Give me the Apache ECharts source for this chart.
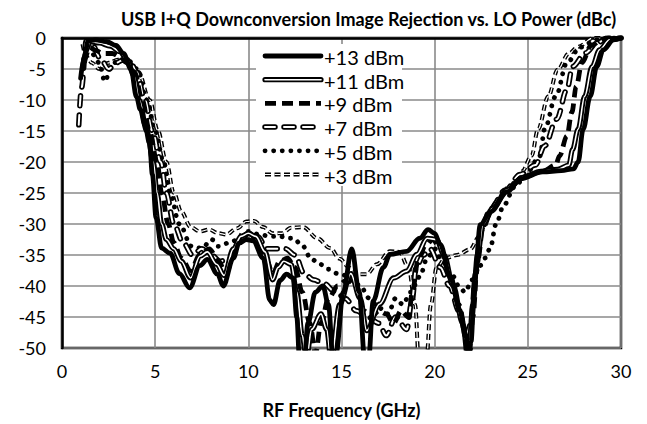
<!DOCTYPE html>
<html><head><meta charset="utf-8">
<script src="https://cdn.jsdelivr.net/npm/echarts@6/dist/echarts.min.js"></script>
<style>html,body{margin:0;padding:0;background:#fff}#c{width:647px;height:424px}</style>
</head><body><div id="c"></div>
<script>
const titleText = 'USB I+Q Downconversion Image Rejection vs. LO Power (dBc)';
const xName = 'RF Frequency (GHz)';
const names = ['+13 dBm','+11 dBm','+9 dBm','+7 dBm','+5 dBm','+3 dBm'];

const p13 = [[1.0,-6.5],[1.2,-3],[1.4,-0.5],[1.8,-0.3],[2.4,-0.6],[2.9,-1.2],[3.3,-2.5],[3.7,-5],[4.0,-9.5],[4.2,-11.5],[4.45,-14],[4.7,-17],[4.85,-22],[5.05,-29],[5.35,-33.9],[5.8,-34.7],[6.3,-38],[6.85,-40.3],[7.4,-36.7],[7.8,-35.7],[8.35,-38.1],[8.65,-40],[9.2,-35.5],[9.5,-33.1],[9.9,-32.5],[10.25,-32.7],[10.8,-35.5],[11.15,-42.3],[11.35,-43],[11.7,-39.1],[12.05,-38.1],[12.4,-38.7],[12.6,-45],[12.75,-52],[13.0,-52],[13.2,-46],[13.6,-41],[14.0,-40],[14.3,-43],[14.55,-52],[14.7,-51],[15.1,-41],[15.55,-34],[15.95,-41],[16.25,-52],[16.45,-52],[16.7,-42.4],[17.25,-37],[17.6,-34.9],[18.5,-34.4],[19.2,-32.3],[19.65,-30.9],[20.0,-31.5],[20.3,-33.3],[20.85,-38.7],[21.35,-43.9],[21.65,-48.2],[21.8,-52],[21.95,-49],[22.15,-38.7],[22.45,-30.1],[23.0,-28],[23.9,-24.8],[24.6,-22.7],[25.8,-21.6],[26.8,-21.4],[27.45,-21.1],[27.7,-20],[27.97,-14.7],[28.35,-9.4],[28.7,-4.6],[29.05,-1.9],[29.6,-0.3],[30,0]];

const p11 = [[1.1,-5],[1.3,-2],[1.5,-0.6],[2.0,-0.8],[2.6,-1.3],[3.1,-2.2],[3.5,-3.5],[3.85,-6],[4.15,-10],[4.55,-15],[4.9,-20],[5.1,-25],[5.35,-30],[5.6,-32.5],[6.0,-34],[6.4,-36],[6.9,-38.7],[7.4,-35.2],[7.8,-34.5],[8.3,-36.5],[8.7,-38.3],[9.2,-34],[9.6,-32],[10.0,-31.5],[10.4,-32],[10.9,-34.5],[11.3,-39],[11.6,-37],[11.9,-36],[12.3,-36.5],[12.6,-41],[12.9,-48],[13.1,-52],[13.4,-47],[13.9,-44.5],[14.2,-47],[14.45,-52],[14.9,-43],[15.5,-38],[16.0,-42],[16.35,-47.2],[17.05,-42.9],[17.8,-38.7],[18.5,-37.6],[19.05,-34.9],[19.6,-32.3],[20.1,-32.5],[20.5,-35],[21.0,-40],[21.5,-46],[21.8,-52],[22.05,-43],[22.3,-35],[22.6,-30],[23.1,-27.5],[23.9,-24.5],[24.7,-22.5],[25.7,-21.5],[26.6,-21.2],[27.2,-20.5],[27.4,-18],[27.7,-14.7],[28.05,-9.4],[28.45,-4.6],[28.85,-1.9],[29.4,-0.3],[30,0]];

const p9 = [[1.2,-4],[1.5,-1.5],[1.8,-2],[2.2,-2.5],[2.7,-2.5],[3.1,-3],[3.5,-4],[3.9,-5.5],[4.3,-10],[4.7,-15],[5.1,-20],[5.35,-25],[5.7,-30],[6.0,-33],[6.4,-35.5],[6.9,-37.5],[7.4,-35],[7.9,-34],[8.4,-36],[8.8,-38],[9.3,-34],[9.7,-31.5],[10.1,-31.5],[10.5,-33],[11.0,-36],[11.3,-38],[11.7,-36],[12.1,-35.5],[12.5,-37],[12.9,-41],[13.3,-46],[13.6,-51],[13.9,-46],[14.3,-42],[14.8,-40],[15.3,-39],[15.8,-40],[16.2,-44],[16.6,-45],[17.0,-44],[17.4,-44.5],[17.8,-46],[18.2,-44],[18.6,-45],[18.8,-41],[19.1,-36],[19.5,-33.5],[19.9,-32.5],[20.3,-34],[20.8,-38],[21.3,-43],[21.7,-48],[21.85,-52],[22.05,-45],[22.3,-36],[22.6,-30.5],[23.1,-27.5],[23.9,-24.5],[24.8,-22.3],[25.8,-21.5],[26.5,-20.5],[26.7,-19],[27.1,-15.8],[27.36,-12],[27.6,-7.8],[27.9,-4],[28.4,-1.2],[29,-0.2],[30,0]];

const p7 = [[0.9,-14],[1.05,-8],[1.3,-0.5],[1.6,-1],[2.1,-3.5],[2.5,-5],[2.9,-4],[3.3,-3.5],[3.7,-4],[4.0,-5.5],[4.45,-10],[4.85,-15],[5.3,-20],[5.6,-25],[6.0,-30],[6.5,-33],[7.0,-35],[7.5,-34],[8.0,-35],[8.5,-36],[9.0,-35.5],[9.5,-33],[10.0,-31.5],[10.5,-32],[11.0,-34],[11.5,-34],[12.0,-34],[12.5,-35],[13.0,-38],[13.5,-39],[14.0,-39.5],[14.7,-41],[15.2,-42],[15.8,-44],[16.4,-45],[17.0,-46],[17.4,-48],[17.9,-45],[18.5,-47],[18.8,-42],[19.0,-37],[19.4,-35],[19.75,-34],[20.3,-37],[20.8,-40],[21.3,-44],[21.7,-48],[21.95,-46],[22.2,-38],[22.5,-31],[23.0,-27.5],[23.8,-24.5],[24.6,-22],[25.4,-20.5],[25.9,-17.4],[26.55,-13.1],[27.1,-8.3],[27.4,-4.6],[28.1,-2.4],[28.7,-0.8],[29.3,0],[30,0]];

const p5 = [[1.3,-2],[1.6,-2.5],[2.0,-4],[2.3,-7],[2.6,-5],[3.0,-3.5],[3.5,-3.5],[4.05,-5],[4.55,-10],[5.0,-15],[5.45,-20],[5.8,-25],[6.3,-30],[6.96,-33.6],[7.5,-33.9],[8.04,-32.5],[8.39,-33.6],[9.0,-33],[9.55,-32.3],[10.0,-31.2],[10.6,-31.7],[11.2,-32],[11.7,-32],[12.1,-32.3],[12.4,-32.3],[12.85,-33.3],[13.4,-35.7],[13.85,-36.5],[14.3,-37.3],[14.8,-38],[15.5,-38.5],[16.0,-40],[16.5,-42],[17.0,-43.5],[17.5,-44.5],[17.9,-42],[18.3,-43],[18.7,-41],[19.2,-38.5],[19.6,-35.5],[20.0,-34],[20.4,-36],[20.9,-38],[21.3,-40],[21.63,-41],[22.0,-39],[22.44,-36.7],[22.7,-35.5],[22.97,-34],[23.3,-30],[23.7,-27],[24.3,-24],[25.0,-21.5],[25.65,-19],[25.9,-14.7],[26.5,-9.4],[27.1,-4],[27.8,-1.5],[28.7,-0.3],[29.2,0],[30,0]];

const p3 = [[1.1,-1],[1.3,-3],[1.6,-4],[2.0,-5],[2.5,-4],[3.0,-3.5],[3.6,-4],[4.1,-5.5],[4.7,-10],[5.15,-15],[5.6,-20],[6.0,-25],[6.4,-28],[6.9,-30.5],[7.4,-31.2],[7.9,-30.9],[8.4,-31.5],[8.8,-31.7],[9.4,-30.7],[9.9,-29.6],[10.3,-29.5],[10.8,-30.5],[11.3,-31.5],[11.8,-31.5],[12.3,-30.6],[12.95,-30.5],[13.7,-32.3],[14.4,-33.9],[14.9,-35.6],[15.4,-37],[15.8,-38.1],[16.35,-38.1],[16.9,-36.5],[17.6,-34.4],[18.1,-34.5],[18.6,-37],[18.95,-43],[19.15,-52],[19.55,-52],[19.8,-43],[20.1,-37],[20.6,-35.5],[21.2,-35],[21.9,-34.1],[22.4,-32],[22.8,-29],[23.3,-26.5],[24.0,-24],[24.7,-21.5],[25.2,-19],[25.55,-14.7],[26.1,-9.4],[26.6,-5.1],[27.2,-2.5],[27.7,-1.4],[28.5,0],[30,0]];

const FONT = 'Lato';
const chart = echarts.init(document.getElementById('c'), null, {renderer: 'svg'});

function line(name, data, ls) {
  return { name, type: 'line', data, symbol: 'none', smooth: 0.35, smoothMonotone: 'x',
    clip: true, silent: true, itemStyle: {color: '#000'},
    lineStyle: Object.assign({color: '#000'}, ls) };
}

const st3o = {width: 4, type: [6, 3.5], cap: 'butt'};
const st3i = {width: 1.2, type: [6, 3.5], cap: 'butt', color: '#fff'};
const st5 = {width: 4.8, type: [0.1, 8.5], cap: 'round'};
const st7o = {width: 5.5, type: [10, 9], cap: 'round'};
const st7i = {width: 2, type: [10, 9], cap: 'round', color: '#fff'};
const st9 = {width: 4.8, type: [11, 6], cap: 'butt'};
const st11o = {width: 5.2, type: 'solid', cap: 'round'};
const st11i = {width: 1.6, type: 'solid', cap: 'round', color: '#fff'};
const st13 = {width: 4.8, type: 'solid', cap: 'round'};

const series = [
  line(names[5], p3, st3o), line(names[5] + ' ', p3, st3i),
  line(names[4], p5, st5),
  line(names[3], p7, st7o), line(names[3] + ' ', p7, st7i),
  line(names[2], p9, st9),
  line(names[1], p11, st11o), line(names[1] + ' ', p11, st11i),
  line(names[0], p13, st13)
];

// legend drawn as graphic: line samples + real text
const LG = {x: 256, y: 44, w: 146, h: 142, lx1: 265, lx2: 321, tx: 324, row0: 56, step: 23.7};
const legendStyles = [[st13], [st11o, st11i], [st9], [st7o, st7i], [st5], [st3o, st3i]];
const legendEls = [{ type: 'rect', z: 100, silent: true, shape: {x: LG.x, y: LG.y, width: LG.w, height: LG.h}, style: {fill: '#fff'} }];
legendStyles.forEach((sts, i) => {
  const y = LG.row0 + i * LG.step;
  sts.forEach(s => legendEls.push({ type: 'line', z: 101, silent: true,
    shape: {x1: LG.lx1, y1: y, x2: LG.lx2, y2: y},
    style: {stroke: s.color || '#000', lineWidth: s.width, lineDash: Array.isArray(s.type) ? s.type : null, lineCap: s.cap} }));
  legendEls.push({ type: 'text', z: 102, silent: true,
    style: {text: names[i], x: LG.tx, y: y + 1, fill: '#000', font: '20px ' + FONT, verticalAlign: 'middle', align: 'left'} });
});

chart.setOption({
  animation: false,
  backgroundColor: '#fff',
  title: { text: titleText, left: 116, top: 5,
    textStyle: {fontFamily: FONT, fontWeight: 'bold', fontSize: 18, color: '#000'} },
  grid: { left: 62, right: 26, top: 38, bottom: 73, show: true, borderColor: '#000', borderWidth: 2.5, backgroundColor: 'transparent' },
  xAxis: { type: 'value', min: 0, max: 30, interval: 5,
    name: xName, nameLocation: 'middle', nameGap: 53,
    nameTextStyle: {fontFamily: FONT, fontWeight: 'bold', fontSize: 18, color: '#000'},
    axisLine: {lineStyle: {color: '#000', width: 2.5}}, axisTick: {show: false},
    axisLabel: {fontFamily: FONT, fontSize: 18, color: '#000', margin: 14},
    splitLine: {show: true, lineStyle: {color: '#8a8a8a', width: 1.6}} },
  yAxis: { type: 'value', min: -50, max: 0, interval: 5,
    axisLine: {show: true, lineStyle: {color: '#000', width: 2.5}}, axisTick: {show: false},
    axisLabel: {fontFamily: FONT, fontSize: 18, color: '#000', margin: 16},
    splitLine: {show: true, lineStyle: {color: '#8a8a8a', width: 1.6}} },
  graphic: legendEls,
  series
});
</script></body></html>
